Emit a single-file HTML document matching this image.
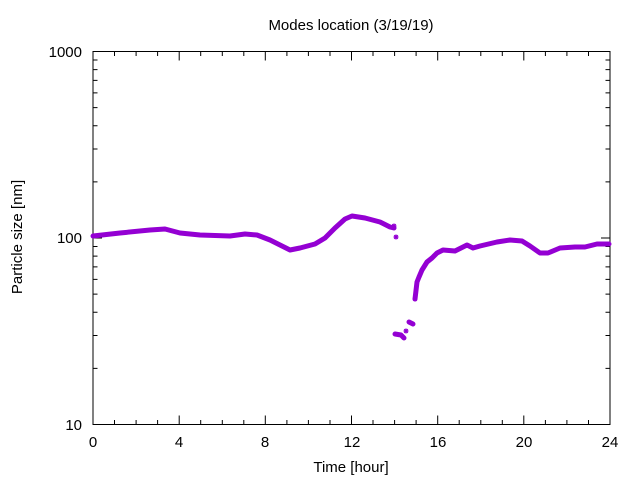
<!DOCTYPE html>
<html><head><meta charset="utf-8"><style>
html,body{margin:0;padding:0;background:#fff;}
svg{display:block;font-family:"Liberation Sans","DejaVu Sans",sans-serif;}
</style></head><body>
<svg width="640" height="480" xmlns="http://www.w3.org/2000/svg">
<defs><path id="st" d="M-2.5,0H2.5M0,-2.5V2.5M-1.8,-1.8L1.8,1.8M-1.8,1.8L1.8,-1.8" stroke="#9400d3" stroke-width="1.3"/></defs>
<rect x="93" y="51.5" width="517" height="373" fill="none" stroke="#000" stroke-width="1"/>
<path stroke="#000" stroke-width="1" fill="none" d="
M93,424.5v-9M114.5,424.5v-4.5M136.1,424.5v-4.5M157.6,424.5v-4.5M179.2,424.5v-9M200.7,424.5v-4.5M222.3,424.5v-4.5M243.8,424.5v-4.5M265.3,424.5v-9M286.9,424.5v-4.5M308.4,424.5v-4.5M330,424.5v-4.5M351.5,424.5v-9M373,424.5v-4.5M394.6,424.5v-4.5M416.1,424.5v-4.5M437.7,424.5v-9M459.2,424.5v-4.5M480.8,424.5v-4.5M502.3,424.5v-4.5M523.8,424.5v-9M545.4,424.5v-4.5M566.9,424.5v-4.5M588.5,424.5v-4.5M610,424.5v-9
M93,51.5v9M114.5,51.5v4.5M136.1,51.5v4.5M157.6,51.5v4.5M179.2,51.5v9M200.7,51.5v4.5M222.3,51.5v4.5M243.8,51.5v4.5M265.3,51.5v9M286.9,51.5v4.5M308.4,51.5v4.5M330,51.5v4.5M351.5,51.5v9M373,51.5v4.5M394.6,51.5v4.5M416.1,51.5v4.5M437.7,51.5v9M459.2,51.5v4.5M480.8,51.5v4.5M502.3,51.5v4.5M523.8,51.5v9M545.4,51.5v4.5M566.9,51.5v4.5M588.5,51.5v4.5M610,51.5v9
M93,238h9M610,238h-9
M93,368.4h4.5M93,335.5h4.5M93,312.2h4.5M93,294.1h4.5M93,279.4h4.5M93,266.9h4.5M93,256.1h4.5M93,246.5h4.5
M93,181.9h4.5M93,149h4.5M93,125.7h4.5M93,107.6h4.5M93,92.9h4.5M93,80.4h4.5M93,69.6h4.5M93,60h4.5
M610,368.4h-4.5M610,335.5h-4.5M610,312.2h-4.5M610,294.1h-4.5M610,279.4h-4.5M610,266.9h-4.5M610,256.1h-4.5M610,246.5h-4.5
M610,181.9h-4.5M610,149h-4.5M610,125.7h-4.5M610,107.6h-4.5M610,92.9h-4.5M610,80.4h-4.5M610,69.6h-4.5M610,60h-4.5"/>
<g fill="none" stroke="#9400d3" stroke-width="5" stroke-linejoin="round" stroke-linecap="round">
<polyline points="93,236 120,233 150,230 165,229 180,233 200,235 230,236 245,234 257,235 270,240 282,246 290,250 300,248 315,244 325,238 335,228 345,219 352,216 365,218 380,222 390,227 394,228"/>
<polyline points="415,299 417,282 419,277 422,270 427,262 432,258 437,253 443,250 455,251 467,245 473,248 480,246 497,242 510,240 522,241 530,246 540,253 548,253 560,248 575,247 585,247 597,244 609,244"/>
<polyline points="395,334 401,335 404,338"/>
<polyline points="409,322 413,324"/>
</g>
<use href="#st" x="396" y="237"/><use href="#st" x="394" y="226"/><use href="#st" x="406" y="331"/><use href="#st" x="415" y="299"/>
<g font-size="15" fill="#000">
<text x="351" y="30" text-anchor="middle">Modes location (3/19/19)</text>
<text x="351" y="472" text-anchor="middle">Time [hour]</text>
<text transform="translate(22,237) rotate(-90)" text-anchor="middle">Particle size [nm]</text>
<text x="82" y="57" text-anchor="end">1000</text>
<text x="82" y="243" text-anchor="end">100</text>
<text x="82" y="430" text-anchor="end">10</text>
<g text-anchor="middle">
<text x="93" y="447">0</text><text x="179" y="447">4</text><text x="265" y="447">8</text>
<text x="352" y="447">12</text><text x="438" y="447">16</text><text x="524" y="447">20</text><text x="610" y="447">24</text>
</g></g>
</svg>
</body></html>
